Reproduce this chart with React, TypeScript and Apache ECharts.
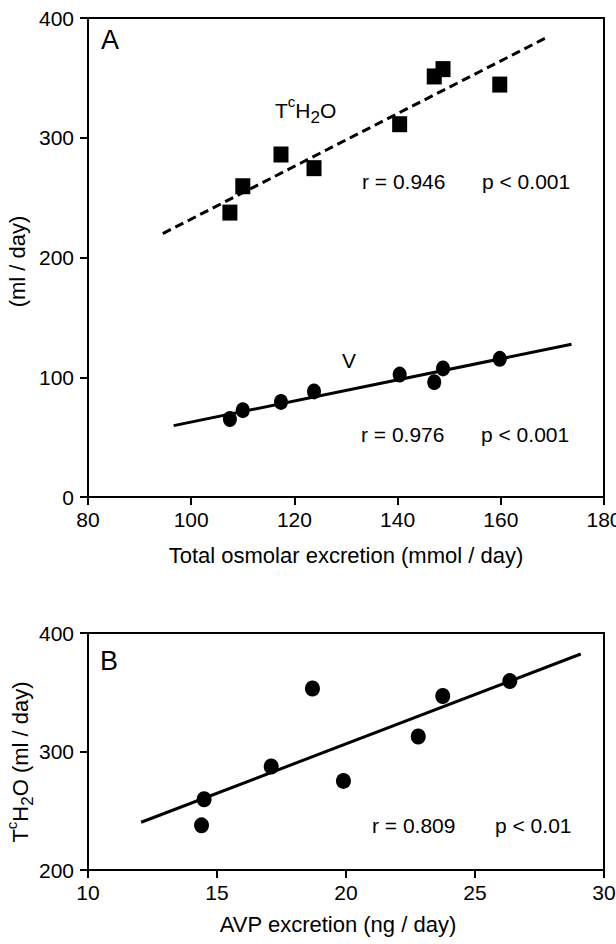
import React, { useEffect, useRef } from "react";
import * as echarts from "echarts";

// Panel A data: total osmolar excretion (mmol/day)
const osmolar = [107.5, 110.0, 117.4, 123.8, 140.4, 147.1, 148.8, 159.8];
const tch2oA = [237.5, 259.5, 286, 274.6, 311.3, 351.2, 357.3, 344.4];
const urineV = [65.1, 72.5, 79.4, 88.2, 102.2, 95.9, 107.4, 115.4];
const tch2oFitX = [94.5, 169];
const tch2oFitY = [220, 384];
const vFitX = [96.6, 173.7];
const vFitY = [59.6, 127.5];
const xTicksA = { min: 80, max: 180, interval: 20 };
const yTicksA = { min: 0, max: 400, interval: 100 };

// Panel B data: AVP excretion (ng/day)
const avp = [14.4, 14.5, 17.1, 18.7, 19.9, 22.8, 23.75, 26.35];
const tch2oB = [237.7, 259.7, 287.3, 353.2, 275.2, 312.7, 346.8, 359.4];
const avpFitX = [12.06, 29.1];
const avpFitY = [240.3, 382.3];
const xTicksB = { min: 10, max: 30, interval: 5 };
const yTicksB = { min: 200, max: 400, interval: 100 };

const FONT = "'Liberation Sans', Arial, Helvetica, sans-serif";

const zip = (xs: number[], ys: number[]) => xs.map((x, i) => [x, ys[i]]);

const tchRich = (size: number) => ({
  a: { fontSize: size, fontFamily: FONT, color: "#000", fill: "#000", lineHeight: 32, verticalAlign: "middle" },
  b: { fontSize: 15, fontFamily: FONT, color: "#000", fill: "#000", lineHeight: 22, verticalAlign: "top" },
  c: { fontSize: 17, fontFamily: FONT, color: "#000", fill: "#000", lineHeight: 13, verticalAlign: "bottom" },
});

export default function App() {
  const ref = useRef<HTMLDivElement>(null);
  useEffect(() => {
    if (!ref.current) return;
    const chart = echarts.init(ref.current, undefined, { renderer: "svg" });
    const axisCommon = {
      type: "value" as const,
      axisLine: { show: true, onZero: false, lineStyle: { color: "#000", width: 2 } },
      axisTick: { show: true, length: 8, lineStyle: { color: "#000", width: 2 } },
      splitLine: { show: false },
    };
    const tickLabel = (margin: number) => ({
      fontSize: 21,
      color: "#000",
      fontFamily: FONT,
      margin,
    });
    const nameStyle = { fontSize: 22, color: "#000", fontFamily: FONT };
    const grid = (top: number, height: number) => ({
      left: 88,
      top,
      width: 516,
      height,
      show: true,
      borderColor: "#000",
      borderWidth: 2,
      backgroundColor: "transparent",
      containLabel: false,
      outerBoundsMode: "none",
    });
    const txt = (text: string, x: number, y: number, size = 21) => ({
      type: "text",
      silent: true,
      style: {
        text,
        x,
        y,
        fill: "#000",
        fontSize: size,
        fontFamily: FONT,
        verticalAlign: "middle",
        align: "left",
      },
    });
    const dot = { color: "#000", opacity: 1 };
    chart.setOption({
      animation: false,
      backgroundColor: "#fff",
      grid: [grid(18, 479), grid(633, 237)],
      xAxis: [
        {
          ...axisCommon,
          gridIndex: 0,
          ...xTicksA,
          axisLabel: tickLabel(12),
          name: "Total osmolar excretion (mmol / day)",
          nameLocation: "middle",
          nameGap: 47,
          nameTextStyle: nameStyle,
        },
        {
          ...axisCommon,
          gridIndex: 1,
          ...xTicksB,
          axisLabel: tickLabel(12),
          name: "AVP excretion (ng / day)",
          nameLocation: "middle",
          nameGap: 43,
          nameTextStyle: { ...nameStyle, padding: [0, 16, 0, 0] },
        },
      ],
      yAxis: [
        {
          ...axisCommon,
          gridIndex: 0,
          ...yTicksA,
          axisLabel: tickLabel(14),
          name: "(ml / day)",
          nameLocation: "middle",
          nameRotate: 90,
          nameGap: 54,
          nameTextStyle: { ...nameStyle, padding: [0, 8, 0, 0] },
        },
        {
          ...axisCommon,
          gridIndex: 1,
          ...yTicksB,
          axisLabel: tickLabel(14),
        },
      ],
      series: [
        {
          type: "line",
          xAxisIndex: 0,
          yAxisIndex: 0,
          data: zip(tch2oFitX, tch2oFitY),
          symbol: "none",
          silent: true,
          z: 2,
          lineStyle: { color: "#000", width: 3, type: [9, 5] },
        },
        {
          type: "line",
          xAxisIndex: 0,
          yAxisIndex: 0,
          data: zip(vFitX, vFitY),
          symbol: "none",
          silent: true,
          z: 2,
          lineStyle: { color: "#000", width: 3 },
        },
        {
          type: "scatter",
          xAxisIndex: 0,
          yAxisIndex: 0,
          data: zip(osmolar, tch2oA),
          symbol: "rect",
          symbolSize: [15, 16],
          itemStyle: dot,
          z: 3,
        },
        {
          type: "scatter",
          xAxisIndex: 0,
          yAxisIndex: 0,
          data: zip(osmolar, urineV),
          symbol: "circle",
          symbolSize: [14, 16],
          itemStyle: dot,
          z: 3,
        },
        {
          type: "line",
          xAxisIndex: 1,
          yAxisIndex: 1,
          data: zip(avpFitX, avpFitY),
          symbol: "none",
          silent: true,
          z: 2,
          lineStyle: { color: "#000", width: 3 },
        },
        {
          type: "scatter",
          xAxisIndex: 1,
          yAxisIndex: 1,
          data: zip(avp, tch2oB),
          symbol: "circle",
          symbolSize: [15, 16],
          itemStyle: dot,
          z: 3,
        },
      ],
      graphic: [
        txt("A", 101, 40, 27),
        txt("B", 100, 661, 27),
        {
          type: "text",
          silent: true,
          style: {
            text: "{a|T}{b|c}{a|H}{c|2}{a|O}",
            x: 275,
            y: 110,
            verticalAlign: "middle",
            align: "left",
            rich: tchRich(21),
          },
        },
        {
          type: "text",
          silent: true,
          x: 20,
          y: 762,
          rotation: Math.PI / 2,
          style: {
            text: "{a|T}{b|c}{a|H}{c|2}{a|O (ml / day)}",
            x: 0,
            y: 0,
            verticalAlign: "middle",
            align: "center",
            rich: tchRich(22),
          },
        },
        txt("r = 0.946", 362, 181),
        txt("p < 0.001", 482, 181),
        txt("V", 342, 360),
        txt("r = 0.976", 361, 434),
        txt("p < 0.001", 481, 434),
        txt("r = 0.809", 372, 825),
        txt("p < 0.01", 495, 825),
      ],
    });
    return () => chart.dispose();
  }, []);
  return (
    <div
      ref={ref}
      style={{ position: "fixed", left: 0, top: 0, width: 616, height: 944, background: "#fff" }}
    />
  );
}
